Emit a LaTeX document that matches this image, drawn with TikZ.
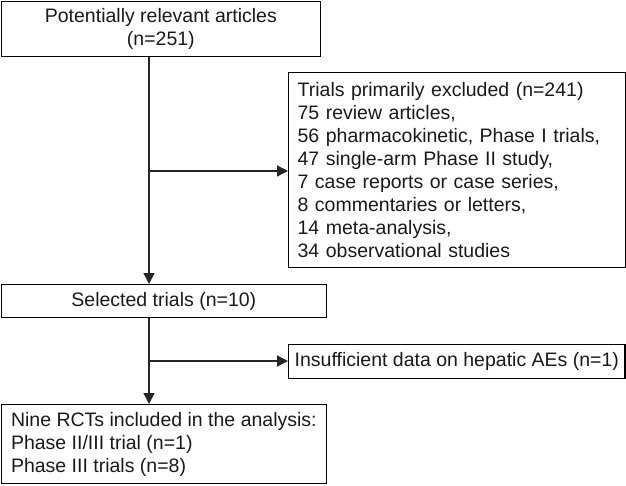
\documentclass[tikz,border=0pt]{standalone}
\usepackage{fontspec}
\setmainfont{Liberation Sans}
\usetikzlibrary{arrows.meta}
\tikzset{
  flowbox/.style={draw=black, line width=1.3pt, rectangle, anchor=north west, inner xsep=9pt, inner ysep=0pt,
    font=\fontsize{19.5}{23}\selectfont, text=black!90},
  flowline/.style={line width=1.3pt, draw=black!85},
  flowarrow/.style={flowline, -{Triangle[length=11pt,width=11pt]}}
}
\begin{document}
\begin{tikzpicture}[x=1pt,y=-1pt]
    \useasboundingbox (0,0) rectangle (626,485);
    \node [flowbox, minimum width=319pt, minimum height=55pt, align=center] (relevant) at (0.7,0.7) {Potentially relevant articles\\(n=251)};
    \node [flowbox, minimum width=337pt, minimum height=195pt, text width=319pt, align=left] (excluded) at (288,72) {Trials primarily excluded (n=241)\\75 review articles,\\56 pharmacokinetic, Phase I trials,\\47 single-arm Phase II study,\\7 case reports or case series,\\8 commentaries or letters,\\14 meta-analysis,\\34 observational studies};
    \node [flowbox, minimum width=325pt, minimum height=33pt, align=center] (selected) at (0.7,284) {Selected trials (n=10)};
    \node [flowbox, minimum width=336pt, minimum height=34pt, inner xsep=6pt] (insufficient) at (288,344) {Insufficient data on hepatic AEs (n=1)};
    \node [flowbox, minimum width=325pt, minimum height=79pt, inner xsep=4pt, align=left] (included) at (0.7,404) {Nine RCTs included in the analysis:\\Phase II/III trial (n=1)\\Phase III trials (n=8)};
    
    \coordinate (trunk) at (149,0);
    \coordinate (split1) at (149,171);
    \coordinate (split2) at (149,361);
    \draw [flowarrow] (relevant.south -| trunk) -- (selected.north -| trunk);
    \draw [flowarrow] (split1) -- (split1 -| excluded.west);
    \draw [flowarrow] (selected.south -| trunk) -- (included.north -| trunk);
    \draw [flowarrow] (split2) -- (split2 -| insufficient.west);
    
\end{tikzpicture}
\end{document}
